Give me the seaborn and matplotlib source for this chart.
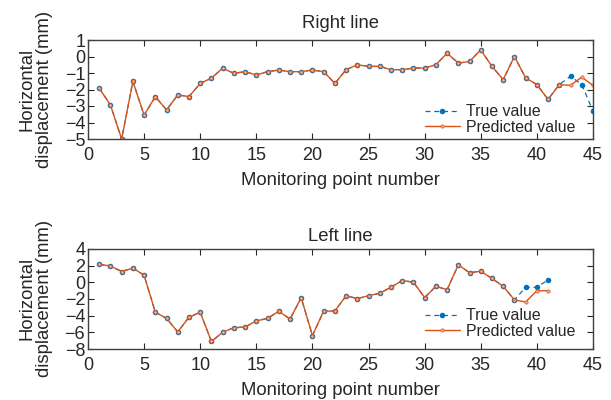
import numpy as np
import pandas as pd
import matplotlib
matplotlib.use("Agg")
import matplotlib.pyplot as plt
import seaborn as sns

# Right line: monitoring points 1..45
right_points = list(range(1, 46))
right_true = [-1.92, -2.94, -5.0, -1.51, -3.55, -2.43, -3.24, -2.33, -2.43, -1.63,
              -1.31, -0.71, -1.02, -0.92, -1.12, -0.92, -0.82, -0.92, -0.92, -0.82,
              -0.92, -1.63, -0.8, -0.5, -0.6, -0.6, -0.8, -0.8, -0.7, -0.7,
              -0.5, 0.2, -0.4, -0.3, 0.4, -0.6, -1.4, 0.0, -1.3, -1.7,
              -2.6, -1.7, -1.2, -1.7, -3.3]
right_pred = right_true[:42] + [-1.75, -1.25, -1.75]

# Left line: monitoring points 1..41
left_points = list(range(1, 42))
left_true = [2.15, 1.94, 1.28, 1.69, 0.83, -3.6, -4.34, -5.95, -4.2, -3.6,
             -7.1, -6.0, -5.45, -5.37, -4.63, -4.34, -3.47, -4.42, -1.86, -6.4,
             -3.47, -3.45, -1.63, -1.96, -1.63, -1.31, -0.61, 0.2, 0.0, -1.84,
             -0.49, -0.9, 2.08, 1.14, 1.31, 0.45, -0.49, -2.12, -0.61, -0.61,
             0.29]
left_pred = left_true[:38] + [-2.37, -1.02, -1.02]

BLUE = "#0072BD"
ORANGE = "#D95319"
TXT = "#262626"

sns.set_style("ticks")
plt.rcParams["font.family"] = ["Liberation Sans", "DejaVu Sans"]
plt.rcParams["axes.edgecolor"] = "#404040"
plt.rcParams["axes.linewidth"] = 1.0

fig = plt.figure(figsize=(6.11, 4.0), dpi=100)
ax_top = fig.add_axes([0.144, 0.6525, 0.8265, 0.2475])
ax_bot = fig.add_axes([0.144, 0.1275, 0.8265, 0.2505])


def draw(ax, pts, true_vals, pred_vals, title, title_pad, ylim, yticks, leg_y):
    df_true = pd.DataFrame({"point": pts, "value": true_vals})
    df_pred = pd.DataFrame({"point": pts, "value": pred_vals})
    sns.lineplot(data=df_true, x="point", y="value", ax=ax, color=BLUE,
                 linestyle=(0, (4, 3)), linewidth=0.9, marker="o",
                 markersize=4, markeredgewidth=0, label="True value")
    sns.lineplot(data=df_pred, x="point", y="value", ax=ax, color=ORANGE,
                 linewidth=1.0, marker="o", markersize=2.4,
                 markerfacecolor="#f3b08f", markeredgecolor=ORANGE,
                 markeredgewidth=0.5, label="Predicted value")
    ax.set_xlim(0, 45)
    ax.set_ylim(*ylim)
    ax.set_xticks(range(0, 46, 5))
    ax.set_yticks(yticks)
    ax.tick_params(direction="in", top=True, right=True, labelsize=13,
                   colors=TXT, length=4, width=0.8)
    ax.tick_params(axis="x", pad=6)
    ax.tick_params(axis="y", pad=2)
    for s in ax.spines.values():
        s.set_visible(True)
        s.set_color("#404040")
    ax.set_title(title, fontsize=13.3, color=TXT, pad=title_pad)
    ax.set_xlabel("Monitoring point number", fontsize=13.3, color=TXT)
    ax.xaxis.set_label_coords(0.5, -0.33)
    ax.xaxis.label.set_verticalalignment("top")
    ax.set_ylabel("Horizontal\ndisplacement (mm)", fontsize=13.3, color=TXT,
                  linespacing=1.05)
    ax.yaxis.set_label_coords(-0.069, 0.5)
    leg = ax.legend(loc="lower right", bbox_to_anchor=(0.965, leg_y),
                    frameon=False, fontsize=11.4, handlelength=2.2,
                    handletextpad=0.4, labelspacing=0.05, borderaxespad=0.0,
                    borderpad=0.0)
    for t in leg.get_texts():
        t.set_color(TXT)


draw(ax_top, right_points, right_true, right_pred, "Right line", 8.6, (-5, 1),
     range(-5, 2), 0.04)
draw(ax_bot, left_points, left_true, left_pred, "Left line", 5.8, (-8, 4),
     range(-8, 5, 2), 0.10)

fig.savefig("out.png", dpi=100)
